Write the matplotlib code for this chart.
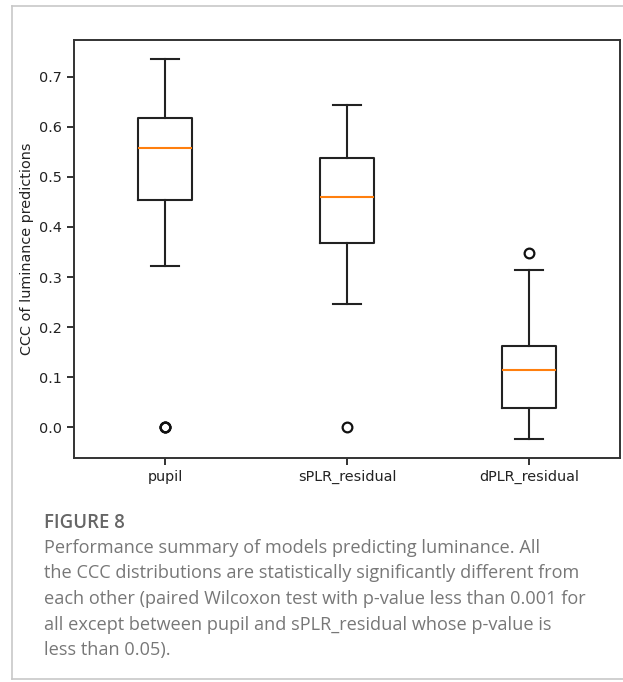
import matplotlib
matplotlib.use("Agg")
import matplotlib.pyplot as plt
from matplotlib.lines import Line2D

# ---- data ----
categories = ["pupil", "sPLR_residual", "dPLR_residual"]
whislo = [0.322, 0.246, -0.023]
q1 = [0.454, 0.368, 0.039]
med = [0.558, 0.459, 0.115]
q3 = [0.618, 0.538, 0.162]
whishi = [0.735, 0.644, 0.314]
fliers = [[0.0, 0.0, 0.001], [0.0], [0.348]]
yticks = [0.0, 0.1, 0.2, 0.3, 0.4, 0.5, 0.6, 0.7]

caption_title = "FIGURE 8"
caption_lines = [
    "Performance summary of models predicting luminance. All",
    "the CCC distributions are statistically significantly different from",
    "each other (paired Wilcoxon test with p-value less than 0.001 for",
    "all except between pupil and sPLR_residual whose p-value is",
    "less than 0.05).",
]

W, H = 623, 682
fig = plt.figure(figsize=(W / 100, H / 100), dpi=100)
ax = fig.add_axes([74 / W, 1 - 458 / H, (620 - 74) / W, (458 - 40) / H])

stats = []
for i, lab in enumerate(categories):
    stats.append(dict(label=lab, whislo=whislo[i], q1=q1[i], med=med[i],
                      q3=q3[i], whishi=whishi[i], fliers=fliers[i]))

lw = 1.5
ax.bxp(stats,
       boxprops=dict(linewidth=lw, color="#222222"),
       whiskerprops=dict(linewidth=lw, color="#222222"),
       capprops=dict(linewidth=lw, color="#222222"),
       medianprops=dict(linewidth=lw, color="#ff7f0e"),
       flierprops=dict(marker="o", markersize=7, markerfacecolor="none",
                       markeredgecolor="#111111", markeredgewidth=1.6))

ax.set_yticks(yticks)
ax.set_yticklabels([f"{v:.1f}" for v in yticks])
ax.tick_params(labelsize=10.4, length=5, width=1.3, colors="#222222")
for s in ax.spines.values():
    s.set_linewidth(1.4)
    s.set_color("#333333")
ax.set_ylabel("CCC of luminance predictions", fontsize=10.4, color="#222222")

# caption
fig.text(44 / W, 1 - 523 / H, caption_title, fontsize=13.4, fontweight="semibold",
         color="#666666", family="Open Sans", va="center", ha="left")
for k, line in enumerate(caption_lines):
    fig.text(44 / W, 1 - (548 + 25.5 * k) / H, line, fontsize=13.1,
             color="#777777", family="Open Sans", va="center", ha="left")

# frame
fc = "#c8c8c8"
fig.add_artist(Line2D([12 / W, 12 / W], [1 - 5.5 / H, 1 - 679 / H],
                      transform=fig.transFigure, color=fc, lw=1.2))
fig.add_artist(Line2D([12 / W, 1], [1 - 5.5 / H, 1 - 5.5 / H],
                      transform=fig.transFigure, color=fc, lw=1.2))
fig.add_artist(Line2D([12 / W, 1], [1 - 679 / H, 1 - 679 / H],
                      transform=fig.transFigure, color=fc, lw=1.2))

fig.savefig("out.png", dpi=100)
